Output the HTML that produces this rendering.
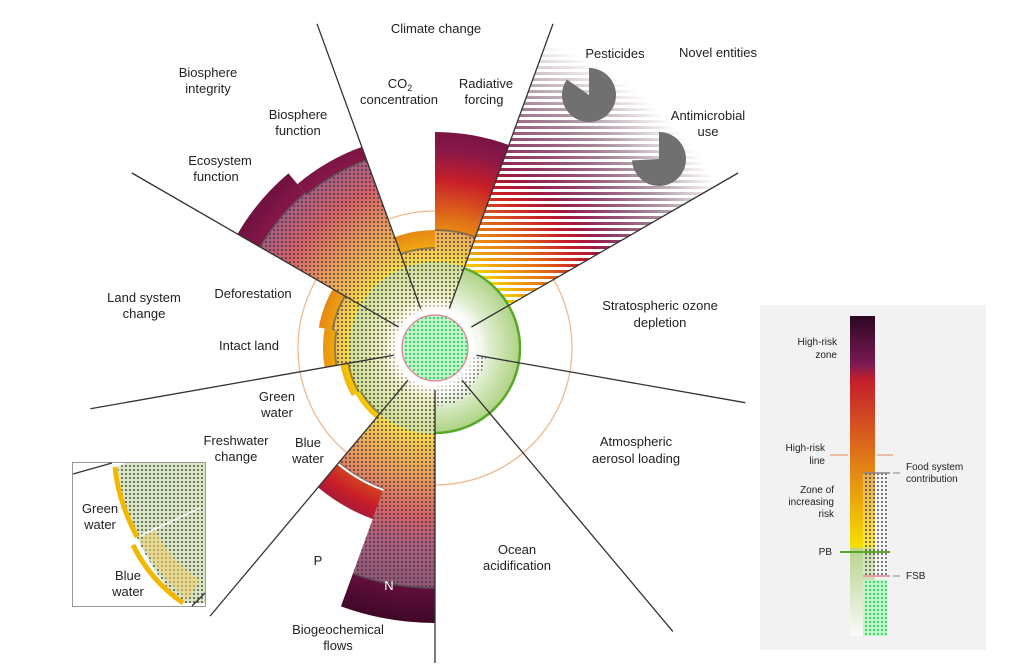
<!DOCTYPE html>
<html><head><meta charset="utf-8"><style>
body{margin:0;background:#fff;width:1024px;height:671px;overflow:hidden}
svg{display:block}
text{font-family:"Liberation Sans",sans-serif;fill:#222}
</style></head><body>
<svg id="s" width="1024" height="671" viewBox="0 0 1024 671" xmlns="http://www.w3.org/2000/svg">
<defs>
<radialGradient id="risk" gradientUnits="userSpaceOnUse" cx="435" cy="348" r="290">
<stop offset="0.29" stop-color="#f7d400"/>
<stop offset="0.36" stop-color="#eda010"/>
<stop offset="0.45" stop-color="#e07018"/>
<stop offset="0.58" stop-color="#c81e28"/>
<stop offset="0.68" stop-color="#8a1848"/>
<stop offset="0.8" stop-color="#6a1040"/>
<stop offset="0.95" stop-color="#3e0828"/>
</radialGradient>
<radialGradient id="green" gradientUnits="userSpaceOnUse" cx="435" cy="348" r="88">
<stop offset="0.4" stop-color="#ffffff"/>
<stop offset="1" stop-color="#a9d07c"/>
</radialGradient>
<radialGradient id="fade" gradientUnits="userSpaceOnUse" cx="435" cy="348" r="340">
<stop offset="0.55" stop-color="#fff" stop-opacity="0"/>
<stop offset="0.96" stop-color="#fff" stop-opacity="1"/>
</radialGradient>
<pattern id="dots" width="4" height="4" patternUnits="userSpaceOnUse">
<rect width="4" height="4" fill="#fff" fill-opacity="0.3"/>
<circle cx="2" cy="2" r="1.1" fill="#333" fill-opacity="0.7"/>
</pattern>
<pattern id="gdots" width="4" height="4" patternUnits="userSpaceOnUse">
<rect width="4" height="4" fill="#c8f5cf"/>
<circle cx="2" cy="2" r="1.2" fill="#3ed86a"/>
</pattern>
<pattern id="stripes" width="6" height="6" patternUnits="userSpaceOnUse">
<rect y="3" width="6" height="3" fill="#fff"/>
</pattern>
<radialGradient id="glow" gradientUnits="userSpaceOnUse" cx="435" cy="348" r="52">
<stop offset="0.65" stop-color="#fff" stop-opacity="1"/>
<stop offset="1" stop-color="#fff" stop-opacity="0"/>
</radialGradient>
<linearGradient id="lg" x1="0" y1="0" x2="0" y2="1">
<stop offset="0" stop-color="#2c0722"/>
<stop offset="0.15" stop-color="#7a1a52"/>
<stop offset="0.2" stop-color="#c41e2c"/>
<stop offset="0.45" stop-color="#e07a18"/>
<stop offset="0.72" stop-color="#f7de00"/>
<stop offset="0.73" stop-color="#b8d48c"/>
<stop offset="1" stop-color="#fafafa"/>
</linearGradient>
</defs>
<g id="g"></g>
</svg>
<script>
var C=[435,348],NS="http://www.w3.org/2000/svg",G=document.getElementById('g');
function pt(r,a){a=a*Math.PI/180;return [C[0]+r*Math.sin(a),C[1]-r*Math.cos(a)];}
function sec(r0,r1,a0,a1){var p=pt(r1,a0),q=pt(r1,a1),lg=(a1-a0)>180?1:0;
var d="M"+p+" A"+r1+","+r1+" 0 "+lg+" 1 "+q;
if(r0>0){var s=pt(r0,a1),t=pt(r0,a0);d+=" L"+s+" A"+r0+","+r0+" 0 "+lg+" 0 "+t+"Z";}else d+=" L"+C+"Z";return d;}
function el(n,at){var e=document.createElementNS(NS,n);for(var k in at)e.setAttribute(k,at[k]);G.appendChild(e);return e;}
function P(d,f,o){return el('path',Object.assign({d:d,fill:f},o||{}));}
el('circle',{cx:C[0],cy:C[1],r:86,fill:'url(#green)'});
el('circle',{cx:C[0],cy:C[1],r:137,fill:'none',stroke:'#f0b88a','stroke-width':1.3});
var bars=[[-20,0,118,100],[0,20,216,118],[180,200,275,240],[200,220,182,150],[220,240,92,86],[240,260,96,88],[260,280,112,100],[280,300,118,104],[300,320,228,202],[320,340,214,200]];
bars.forEach(function(b){P(sec(40,b[2],b[0],b[1]),'url(#risk)');});
[[-20,20],[180,340]].forEach(function(a){P(sec(40,86,a[0],a[1]),'url(#green)',{opacity:0.8});});
bars.forEach(function(b){P(sec(40,b[3],b[0],b[1]),'url(#dots)');P(sec(b[3]-1,b[3]+1,b[0],b[1]),'#555',{opacity:0.6});});
// gap between P dotted and red
P(sec(150,152,200,220),'#fff');
// novel entities
P(sec(40,335,20,60),'url(#risk)');P(sec(40,335,20,60),'url(#stripes)');P(sec(40,340,20,60),'url(#fade)');
P(sec(0,86,20,60),'url(#green)');
// ozone small
P(sec(40,48,60,100),'#eef5e6');
P(sec(40,78,100,140),'url(#green)');P(sec(35,52,100,140),'url(#dots)');
P(sec(40,80,140,180),'url(#green)');P(sec(35,58,140,180),'url(#dots)');
el('path',{d:"M"+pt(85,20)+" A85,85 0 0 1 "+pt(85,180),fill:'none',stroke:'#5aa82a','stroke-width':2.5});
el('circle',{cx:C[0],cy:C[1],r:52,fill:'url(#glow)'});
el('circle',{cx:C[0],cy:C[1],r:33,fill:'url(#gdots)',stroke:'#e08090','stroke-width':1.2});
[-20,20,60,100,140,180,220,260,300].forEach(function(a,i){var L=[345,345,350,315,370,315,350,350,350][i];var p=pt(42,a),q=pt(L,a);el('line',{x1:p[0],y1:p[1],x2:q[0],y2:q[1],stroke:'#333','stroke-width':1.3});});
function pie(cx,cy,r,a0,a1){var s=function(a){return [cx+r*Math.sin(a*Math.PI/180),cy-r*Math.cos(a*Math.PI/180)];};var p=s(a1),q=s(a0);el('path',{d:"M"+cx+","+cy+" L"+p+" A"+r+","+r+" 0 1 1 "+q+"Z",fill:'#707070'});}
pie(589,95,27,-55,0);pie(659,159,27,-93,0);
</script>
<svg width="1024" height="671" style="position:absolute;left:0;top:0" xmlns="http://www.w3.org/2000/svg">
<g font-size="13" text-anchor="middle">
<text x="436" y="33">Climate change</text>
<text x="400" y="88">CO<tspan font-size="9" dy="3">2</tspan></text>
<text x="399" y="104">concentration</text>
<text x="486" y="88">Radiative</text><text x="484" y="104">forcing</text>
<text x="615" y="58">Pesticides</text>
<text x="718" y="57">Novel entities</text>
<text x="708" y="120">Antimicrobial</text><text x="708" y="136">use</text>
<text x="208" y="77">Biosphere</text><text x="208" y="93">integrity</text>
<text x="298" y="119">Biosphere</text><text x="298" y="135">function</text>
<text x="220" y="165">Ecosystem</text><text x="216" y="181">function</text>
<text x="253" y="298">Deforestation</text>
<text x="144" y="302">Land system</text><text x="144" y="318">change</text>
<text x="249" y="350">Intact land</text>
<text x="660" y="310">Stratospheric ozone</text><text x="660" y="327">depletion</text>
<text x="277" y="401">Green</text><text x="277" y="417">water</text>
<text x="236" y="445">Freshwater</text><text x="236" y="461">change</text>
<text x="308" y="447">Blue</text><text x="308" y="463">water</text>
<text x="636" y="446">Atmospheric</text><text x="636" y="463">aerosol loading</text>
<text x="517" y="554">Ocean</text><text x="517" y="570">acidification</text>
<text x="318" y="565">P</text>
<text x="389" y="590" style="fill:#fff">N</text>
<text x="338" y="634">Biogeochemical</text><text x="338" y="650">flows</text>
</g>
<rect x="72.5" y="462.5" width="133" height="144" fill="#fff" stroke="#999"/>
<line x1="73" y1="474" x2="112" y2="463" stroke="#333" stroke-width="1.3"/>
<path d="M118,467 Q125,540 180,603 L205,603 L205,463 L126,463Z" fill="#c8dcaa"/>
<path d="M118,467 Q125,540 180,603 L205,603 L205,463 L126,463Z" fill="url(#dots)"/>
<path d="M115,467 Q118,500 137,537" fill="none" stroke="#f2b800" stroke-width="5"/>
<path d="M133,545 Q150,580 183,603" fill="none" stroke="#f2b800" stroke-width="5"/>
<path d="M140,540 Q158,575 188,600 L200,580 Q170,560 155,530Z" fill="#f2d070" opacity="0.6"/>
<line x1="140" y1="536" x2="200" y2="508" stroke="#fff" stroke-width="1.5"/>
<line x1="192" y1="606" x2="205" y2="593" stroke="#333" stroke-width="1.3"/>
<g font-size="13" text-anchor="middle"><text x="100" y="513">Green</text><text x="100" y="529">water</text>
<text x="128" y="580">Blue</text><text x="128" y="596">water</text></g>
<rect x="760" y="305" width="226" height="345" fill="#f2f2f2"/>
<rect x="850" y="316" width="25" height="320" fill="url(#lg)"/>
<rect x="863" y="473" width="24" height="103" fill="url(#dots)"/>
<rect x="863" y="580" width="24" height="56" fill="url(#gdots)"/>
<line x1="863" y1="473" x2="890" y2="473" stroke="#888" stroke-width="1.5"/>
<line x1="863" y1="576" x2="890" y2="576" stroke="#e8a0a8" stroke-width="2"/>
<line x1="830" y1="455" x2="848" y2="455" stroke="#e8a070" stroke-width="1.2"/>
<line x1="877" y1="455" x2="893" y2="455" stroke="#e8a070" stroke-width="1.2"/>
<line x1="840" y1="552" x2="890" y2="552" stroke="#5aa82a" stroke-width="2"/>
<line x1="893" y1="473" x2="900" y2="473" stroke="#888"/>
<line x1="893" y1="576" x2="900" y2="576" stroke="#888"/>
<g font-size="10">
<g text-anchor="end"><text x="837" y="345">High-risk</text><text x="837" y="358">zone</text>
<text x="825" y="451">High-risk</text><text x="825" y="464">line</text>
<text x="834" y="493">Zone of</text><text x="834" y="505">increasing</text><text x="834" y="517">risk</text>
<text x="832" y="555">PB</text></g>
<text x="906" y="470">Food system</text><text x="906" y="482">contribution</text>
<text x="906" y="579">FSB</text></g>
</svg>
</body></html>
